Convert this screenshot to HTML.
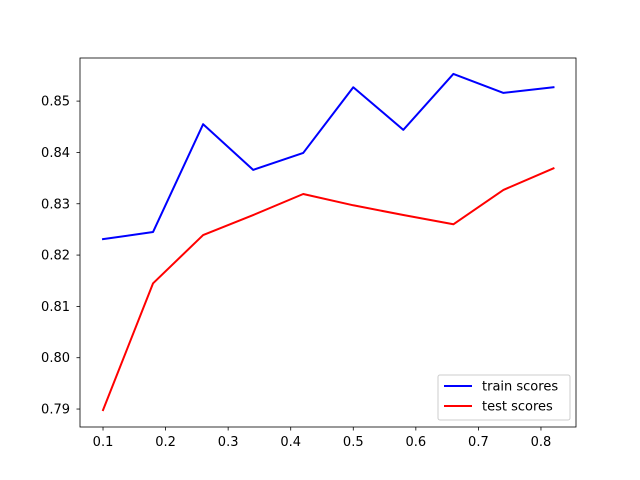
<!DOCTYPE html>
<html><head><meta charset="utf-8"><style>body{margin:0;background:#fff}svg{display:block;font-family:"DejaVu Sans","Liberation Sans",sans-serif}</style></head>
<body>
<svg id="chart" width="640" height="480"></svg>
<script>
const xValues=[0.1,0.18,0.26,0.34,0.42,0.5,0.58,0.66,0.74,0.82];
const trainScores=[0.8231,0.8245,0.8455,0.8366,0.8399,0.8527,0.8444,0.8553,0.8516,0.8527];
const testScores=[0.7898,0.8145,0.8239,0.8278,0.8319,0.8297,0.8278,0.8260,0.8327,0.8369];
const xTicks=[0.1,0.2,0.3,0.4,0.5,0.6,0.7,0.8];
const yTicks=[0.79,0.80,0.81,0.82,0.83,0.84,0.85];
const L=80,R=576,T=58,B=427,xmin=0.0632,xmax=0.856,ymin=0.7865,ymax=0.8584;
const sx=v=>L+(v-xmin)/(xmax-xmin)*(R-L);
const sy=v=>B-(v-ymin)/(ymax-ymin)*(B-T);
const svg=document.getElementById('chart');const NS='http://www.w3.org/2000/svg';
function mk(t,a,p){const e=document.createElementNS(NS,t);for(const k in a)e.setAttribute(k,a[k]);(p||svg).appendChild(e);return e;}
xTicks.forEach(v=>{const x=sx(v);
const t=mk('line',{x1:x,x2:x,y1:B,y2:B+3.5,stroke:'#000','stroke-width':0.8});


const l=mk('text',{x:x,y:B+19,'text-anchor':'middle','font-size':13});l.textContent=String(v);

});
yTicks.forEach(v=>{const y=sy(v);
const t=mk('line',{x1:L-3.5,x2:L,y1:y,y2:y,stroke:'#000','stroke-width':0.8});


const l=mk('text',{x:L-10,y:y+4.5,'text-anchor':'end','font-size':13});l.textContent=v.toFixed(2);

});
function series(vals,color,name){const p=mk('polyline',{points:vals.map((v,i)=>sx(xValues[i])+','+sy(v)).join(' '),fill:'none',stroke:color,'stroke-width':2,'stroke-linejoin':'round','stroke-linecap':'square'});

}
series(trainScores,'#0000ff','train-scores-line');
series(testScores,'#ff0000','test-scores-line');
const f=mk('rect',{x:L,y:T,width:R-L,height:B-T,fill:'none',stroke:'#000','stroke-width':0.8});


const g=mk('g',{});


mk('rect',{x:438,y:375,width:132,height:45,rx:2,fill:'#fff',stroke:'#ccc','stroke-width':1},g);
mk('line',{x1:444,x2:472,y1:386,y2:386,stroke:'#0000ff','stroke-width':2},g);
mk('text',{x:482,y:390.5,'font-size':13},g).textContent='train scores';
mk('line',{x1:444,x2:472,y1:406,y2:406,stroke:'#ff0000','stroke-width':2},g);
mk('text',{x:482,y:410.5,'font-size':13},g).textContent='test scores';
</script>
</body></html>
